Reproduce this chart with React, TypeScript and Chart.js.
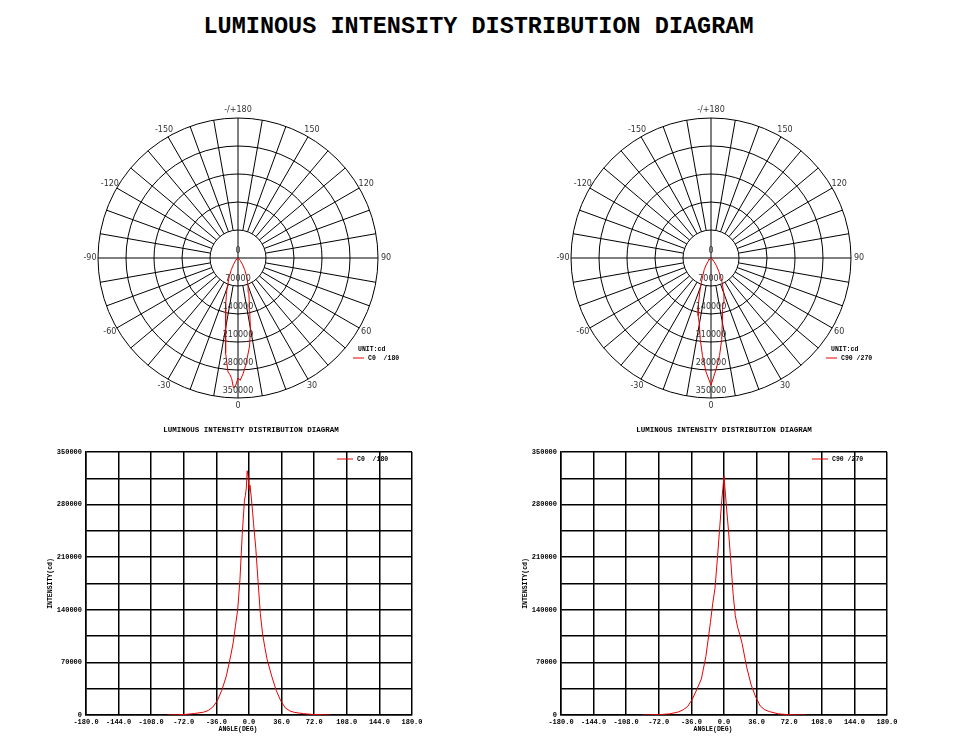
import React, { useEffect, useRef } from 'react';
import { Chart, registerables } from 'chart.js';

Chart.register(...registerables);

const PAGE_TITLE = 'LUMINOUS INTENSITY DISTRIBUTION DIAGRAM';
const SUB_TITLE = 'LUMINOUS INTENSITY DISTRIBUTION DIAGRAM';
const UNIT_TEXT = 'UNIT:cd';
const LABEL_C0 = 'C0  /180';
const LABEL_C90 = 'C90 /270';
const Y_TITLE = 'INTENSITY(cd)';
const X_TITLE = 'ANGLE(DEG)';

// C0/180 plane
const ANGLES_C0 = [-90, -80, -70, -60, -50, -45, -40, -35, -30, -25, -20, -17.5, -15, -12.5, -10, -7.5, -5, -4, -3, -2, -1, 0, 1, 2.5, 4, 5, 7.5, 10, 12.5, 15, 17.5, 20, 25, 30, 35, 40, 45, 50, 60, 70, 80, 90];
const VALUES_C0 = [0, 300, 800, 2000, 3800, 6000, 10500, 19000, 33000, 52000, 80000, 96000, 118000, 140000, 180000, 240000, 286000, 292000, 302000, 325000, 318000, 300000, 306000, 290000, 270000, 255000, 222000, 178000, 135000, 108000, 90000, 74000, 52000, 33000, 19000, 9500, 5500, 3500, 1800, 800, 300, 0];

// C90/270 plane
const ANGLES_C90 = [-90, -80, -70, -60, -50, -45, -40, -35, -30, -25, -20, -15, -12.5, -10, -7.5, -5, -2.5, 0, 2.5, 5, 7.5, 10, 12.5, 15, 17.5, 20, 25, 30, 35, 40, 45, 50, 60, 70, 80, 90];
const VALUES_C90 = [0, 200, 600, 1500, 4200, 7000, 11500, 21000, 34000, 48000, 78000, 123000, 148000, 168000, 205000, 245000, 285000, 318000, 280000, 245000, 205000, 162000, 132000, 117000, 107000, 95000, 64000, 40000, 24000, 12000, 7000, 4600, 1500, 600, 200, 0];

const RADIAL_TICKS = [0, 70000, 140000, 210000, 280000, 350000];
const ANGLE_TICKS = [0, 30, 60, 90, 120, 150, 180, -150, -120, -90, -60, -30];
const ANGLE_TICK_TEXT = ['0', '30', '60', '90', '120', '150', '-/+180', '-150', '-120', '-90', '-60', '-30'];

const X_MIN = -180;
const X_MAX = 180;
const X_STEP = 36;
const Y_MIN = 0;
const Y_MAX = 350000;
const Y_GRID_STEP = 35000;
const Y_LABEL_STEP = 70000;

const RED = 'rgb(232,0,0)';
const MONO = '"Liberation Mono", "Courier New", monospace';
const SANS = '"DejaVu Sans", Verdana, sans-serif';

const polarPlugin = {
  id: 'polarGrid',
  beforeDatasetsDraw(chart: any) {
    const { ctx } = chart;
    const xs = chart.scales.x;
    const ys = chart.scales.y;
    const cx = xs.getPixelForValue(0);
    const cy = ys.getPixelForValue(0);
    const rp = (v: number) => xs.getPixelForValue(v) - cx;
    const rMax = rp(RADIAL_TICKS[RADIAL_TICKS.length - 1]);
    const rIn = rp(RADIAL_TICKS[1]);
    ctx.save();
    ctx.strokeStyle = '#000';
    ctx.lineWidth = 1;
    for (const v of RADIAL_TICKS) {
      if (v <= 0) continue;
      ctx.beginPath();
      ctx.arc(cx, cy, rp(v), 0, Math.PI * 2);
      ctx.stroke();
    }
    for (let a = 0; a < 360; a += 10) {
      const r0 = a % 90 === 0 ? 0 : rIn;
      const t = (a * Math.PI) / 180;
      ctx.beginPath();
      ctx.moveTo(cx + r0 * Math.sin(t), cy + r0 * Math.cos(t));
      ctx.lineTo(cx + rMax * Math.sin(t), cy + rMax * Math.cos(t));
      ctx.stroke();
    }
    ctx.restore();
  },
  afterDraw(chart: any, _args: any, opts: any) {
    const { ctx } = chart;
    const xs = chart.scales.x;
    const ys = chart.scales.y;
    const cx = xs.getPixelForValue(0);
    const cy = ys.getPixelForValue(0);
    const rp = (v: number) => xs.getPixelForValue(v) - cx;
    ctx.save();
    ctx.fillStyle = '#333';
    ctx.font = `8px ${SANS}`;
    ctx.textAlign = 'center';
    ctx.textBaseline = 'middle';
    const rl = rp(RADIAL_TICKS[RADIAL_TICKS.length - 1]) + 8;
    ANGLE_TICKS.forEach((a, i) => {
      const t = (a * Math.PI) / 180;
      ctx.fillText(ANGLE_TICK_TEXT[i], cx + rl * Math.sin(t), cy + rl * Math.cos(t));
    });
    for (const v of RADIAL_TICKS) {
      ctx.fillText(String(v), cx, cy + rp(v) - 7);
    }
    ctx.fillStyle = '#000';
    ctx.font = `bold 6.5px ${MONO}`;
    ctx.textAlign = 'left';
    ctx.fillText(UNIT_TEXT, cx + 120, cy + 91);
    ctx.fillText(chart.data.datasets[0].label, cx + 130, cy + 100);
    ctx.strokeStyle = chart.data.datasets[0].borderColor;
    ctx.lineWidth = 1;
    ctx.beginPath();
    ctx.moveTo(cx + 115, cy + 100);
    ctx.lineTo(cx + 126, cy + 100);
    ctx.stroke();
    ctx.font = `bold 7.5px ${MONO}`;
    ctx.textAlign = 'center';
    ctx.fillText(opts.subtitle, cx + 13, cy + 172);
    ctx.restore();
  },
};

const linePlugin = {
  id: 'lineDecor',
  afterDraw(chart: any, _args: any, opts: any) {
    const { ctx, chartArea } = chart;
    const ds = chart.data.datasets[0];
    ctx.save();
    ctx.fillStyle = '#000';
    ctx.font = `bold 6.5px ${MONO}`;
    ctx.textBaseline = 'middle';
    ctx.textAlign = 'left';
    ctx.fillText(ds.label, chartArea.right - 55, chartArea.top + 7);
    ctx.strokeStyle = ds.borderColor;
    ctx.lineWidth = 1;
    ctx.beginPath();
    ctx.moveTo(chartArea.right - 75, chartArea.top + 7);
    ctx.lineTo(chartArea.right - 59, chartArea.top + 7);
    ctx.stroke();
    ctx.textAlign = 'center';
    ctx.fillText(opts.xTitle, (chartArea.left + chartArea.right) / 2 - 11, chartArea.bottom + 14);
    ctx.translate(chartArea.left - 36, (chartArea.top + chartArea.bottom) / 2);
    ctx.rotate(-Math.PI / 2);
    ctx.fillText(opts.yTitle, 0, 0);
    ctx.restore();
  },
};

function polarConfig(angles: number[], values: number[], label: string): any {
  const R = 450000;
  const pts = angles.map((a, i) => ({
    x: values[i] * Math.sin((a * Math.PI) / 180),
    y: -values[i] * Math.cos((a * Math.PI) / 180),
  }));
  return {
    type: 'scatter',
    data: {
      datasets: [
        { label, data: pts, showLine: true, borderColor: RED, borderWidth: 1, pointRadius: 0, fill: false, tension: 0 },
      ],
    },
    options: {
      animation: false,
      responsive: false,
      events: [],
      layout: { padding: { left: 0, top: 0, right: 0, bottom: 5 } },
      scales: {
        x: { type: 'linear', min: -R, max: R, display: false },
        y: { type: 'linear', min: -R, max: R, display: false },
      },
      plugins: {
        legend: { display: false },
        tooltip: { enabled: false },
        polarGrid: { subtitle: SUB_TITLE },
      },
    },
    plugins: [polarPlugin],
  };
}

function lineConfig(angles: number[], values: number[], label: string): any {
  const pts = angles.map((a, i) => ({ x: a, y: values[i] }));
  const tickFont = { family: MONO, size: 7, weight: 'bold' };
  return {
    type: 'scatter',
    data: {
      datasets: [
        { label, data: pts, showLine: true, borderColor: RED, borderWidth: 1, pointRadius: 0, fill: false, tension: 0 },
      ],
    },
    options: {
      animation: false,
      responsive: false,
      events: [],
      layout: { padding: { left: 0, top: 8, right: 28, bottom: 0 } },
      scales: {
        x: {
          type: 'linear',
          min: X_MIN,
          max: X_MAX,
          afterFit: (s: any) => {
            s.height = 29;
            s.paddingLeft = 0;
            s.paddingRight = 0;
          },
          grid: { color: '#000', lineWidth: 1.5, drawTicks: false },
          border: { color: '#000', width: 1.5 },
          ticks: {
            stepSize: X_STEP,
            autoSkip: false,
            maxRotation: 0,
            padding: 3,
            color: '#000',
            font: tickFont,
            callback: (v: number) => Number(v).toFixed(1),
          },
        },
        y: {
          type: 'linear',
          min: Y_MIN,
          max: Y_MAX,
          afterFit: (s: any) => {
            s.width = 46;
            s.paddingTop = 0;
            s.paddingBottom = 0;
          },
          grid: { color: '#000', lineWidth: 1.5, drawTicks: false },
          border: { color: '#000', width: 1.5 },
          ticks: {
            stepSize: Y_GRID_STEP,
            autoSkip: false,
            padding: 4,
            color: '#000',
            font: tickFont,
            callback: (v: number) => (Number(v) % Y_LABEL_STEP === 0 ? String(v) : ''),
          },
        },
      },
      plugins: {
        legend: { display: false },
        tooltip: { enabled: false },
        lineDecor: { xTitle: X_TITLE, yTitle: Y_TITLE },
      },
    },
    plugins: [linePlugin],
  };
}

function ChartBox(props: { left: number; top: number; width: number; height: number; make: () => any }) {
  const ref = useRef<HTMLCanvasElement>(null);
  useEffect(() => {
    const chart = new Chart(ref.current as HTMLCanvasElement, props.make());
    return () => chart.destroy();
  }, []);
  return (
    <canvas
      ref={ref}
      width={props.width}
      height={props.height}
      style={{ position: 'absolute', left: props.left, top: props.top, width: props.width, height: props.height }}
    />
  );
}

export default function App() {
  return (
    <div style={{ position: 'absolute', left: 0, top: 0, width: 978, height: 749, background: '#fff', overflow: 'hidden' }}>
      <div
        style={{
          position: 'absolute',
          left: 0,
          top: 15,
          width: 957,
          textAlign: 'center',
          fontFamily: MONO,
          fontWeight: 'bold',
          fontSize: 23.5,
          lineHeight: '24px',
          color: '#000',
          whiteSpace: 'pre',
        }}
      >
        {PAGE_TITLE}
      </div>
      <ChartBox left={58} top={78} width={360} height={365} make={() => polarConfig(ANGLES_C0, VALUES_C0, LABEL_C0)} />
      <ChartBox left={531} top={78} width={360} height={365} make={() => polarConfig(ANGLES_C90, VALUES_C90, LABEL_C90)} />
      <ChartBox left={40} top={444} width={400} height={300} make={() => lineConfig(ANGLES_C0, VALUES_C0, LABEL_C0)} />
      <ChartBox left={515} top={444} width={400} height={300} make={() => lineConfig(ANGLES_C90, VALUES_C90, LABEL_C90)} />
    </div>
  );
}
